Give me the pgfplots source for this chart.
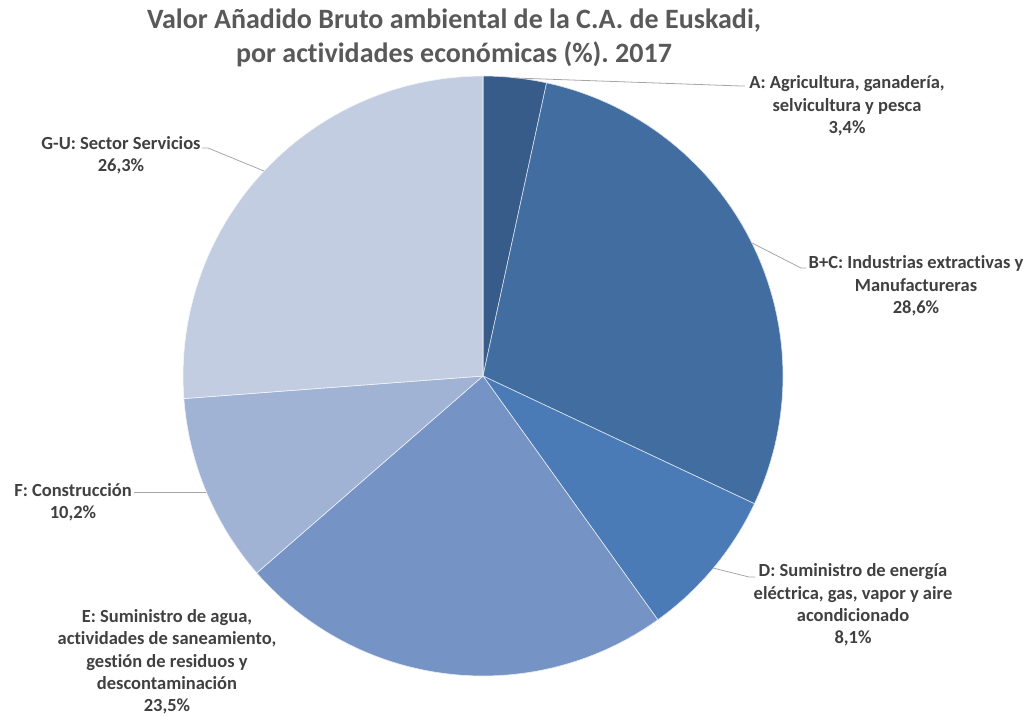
\documentclass[border=0pt]{standalone}
\usepackage{pgfplots}
\pgfplotsset{compat=1.18}
\usepackage{fontspec}
\setmainfont[Ligatures=NoCommon]{Carlito}
\frenchspacing
\definecolor{cA}{HTML}{375C8A}
\definecolor{cB}{HTML}{426DA1}
\definecolor{cD}{HTML}{4A7BB6}
\definecolor{cE}{HTML}{7594C5}
\definecolor{cF}{HTML}{A1B3D5}
\definecolor{cG}{HTML}{C3CDE2}
\definecolor{lead}{HTML}{A6A6A6}
\definecolor{lab}{HTML}{404040}
\definecolor{tit}{HTML}{595959}
\tikzset{lbl/.style={font=\fontsize{18.5}{22.3}\selectfont\bfseries,text=lab,align=center,inner sep=0pt}}
\begin{document}
\begin{tikzpicture}
\begin{axis}[x=1pt,y=1pt,xmin=0,xmax=1030,ymin=0,ymax=717,y dir=reverse,
  hide axis,clip=false,scale only axis]
\path (axis cs:0,0) rectangle (axis cs:1030,717);
% slices: A 3.4, B+C 28.6, D 8.1, E 23.5, F 10.2, G-U 26.3 (angles = pct*3.6)
\addplot[fill=cA,draw=white!80!cA,line width=0.6pt,domain=0:12.24,samples=8,variable=\t] ({483+300*sin(\t)},{376-300*cos(\t)}) -- (axis cs:483,376) -- cycle;
\addplot[fill=cB,draw=white!80!cB,line width=0.6pt,domain=12.24:115.2,samples=60,variable=\t] ({483+300*sin(\t)},{376-300*cos(\t)}) -- (axis cs:483,376) -- cycle;
\addplot[fill=cD,draw=white!80!cD,line width=0.6pt,domain=115.2:144.36,samples=20,variable=\t] ({483+300*sin(\t)},{376-300*cos(\t)}) -- (axis cs:483,376) -- cycle;
\addplot[fill=cE,draw=white!80!cE,line width=0.6pt,domain=144.36:228.96,samples=50,variable=\t] ({483+300*sin(\t)},{376-300*cos(\t)}) -- (axis cs:483,376) -- cycle;
\addplot[fill=cF,draw=white!80!cF,line width=0.6pt,domain=228.96:265.68,samples=25,variable=\t] ({483+300*sin(\t)},{376-300*cos(\t)}) -- (axis cs:483,376) -- cycle;
\addplot[fill=cG,draw=white!80!cG,line width=0.6pt,domain=265.68:360,samples=55,variable=\t] ({483+300*sin(\t)},{376-300*cos(\t)}) -- (axis cs:483,376) -- cycle;
% leader lines
\addplot[lead,line width=0.8pt] coordinates {(515,78) (741,86) (745,86)};
\addplot[lead,line width=0.8pt] coordinates {(752,243) (801,268) (806,268)};
\addplot[lead,line width=0.8pt] coordinates {(713,568) (749,577) (755,577)};
\addplot[lead,line width=0.8pt] coordinates {(206,492) (134,492)};
\addplot[lead,line width=0.8pt] coordinates {(264,171) (208,148) (202,148)};
% labels
\node[lbl] at (axis cs:847,106) {A: Agricultura, ganadería,\\selvicultura y pesca\\3,4\%};
\node[lbl] at (axis cs:916,286) {B+C: Industrias extractivas y\\Manufactureras\\28,6\%};
\node[lbl] at (axis cs:853,605) {D: Suministro de energía\\eléctrica, gas, vapor y aire\\acondicionado\\8,1\%};
\node[lbl] at (axis cs:167,662) {E: Suministro de agua,\\actividades de saneamiento,\\gestión de residuos y\\descontaminación\\23,5\%};
\node[lbl] at (axis cs:73,502) {F: Construcción\\10,2\%};
\node[lbl] at (axis cs:121,155) {G-U: Sector Servicios\\26,3\%};
\node[lbl,font=\fontsize{28}{34}\selectfont\bfseries,text=tit] at (axis cs:454,38) {Valor Añadido Bruto ambiental de la C.A. de Euskadi,\\por actividades económicas (\%). 2017};
\end{axis}
\end{tikzpicture}
\end{document}
